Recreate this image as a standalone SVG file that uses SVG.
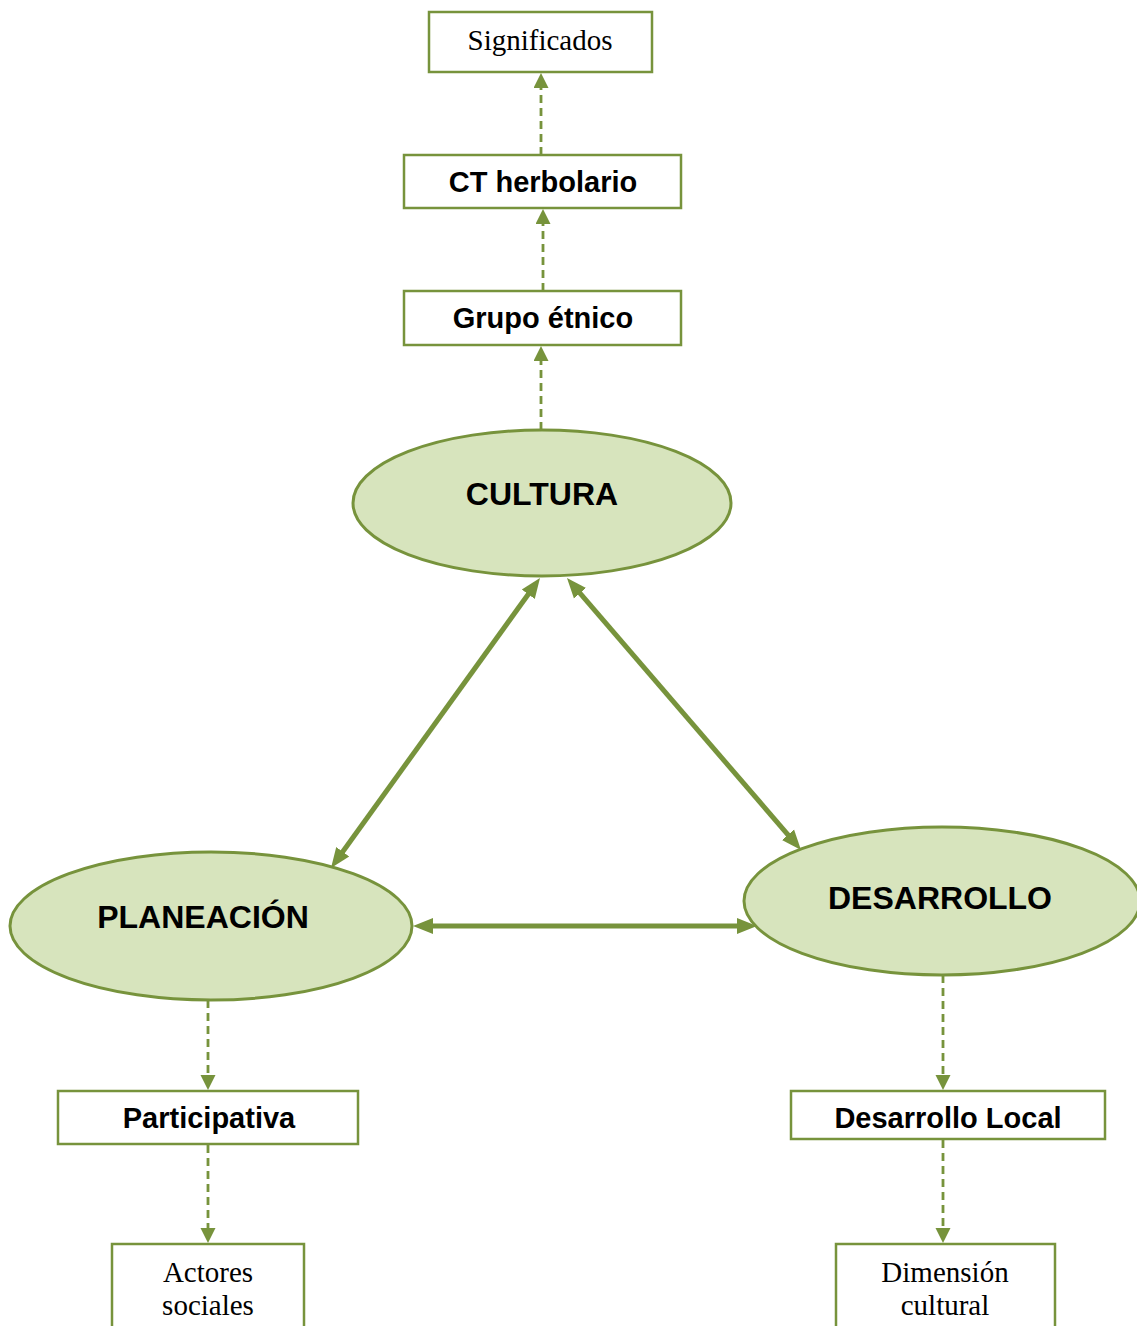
<svg xmlns="http://www.w3.org/2000/svg" width="1137" height="1326" viewBox="0 0 1137 1326">
  <style>
    .box { fill: #ffffff; stroke: #77933C; stroke-width: 2.5; }
    .oval { fill: #D7E4BD; stroke: #77933C; stroke-width: 3; }
    .serif { font-family: "Liberation Serif", "Times New Roman", serif; font-size: 29px; fill: #000; text-anchor: middle; }
    .bold { font-family: "Liberation Sans", Arial, sans-serif; font-weight: bold; font-size: 29px; fill: #000; text-anchor: middle; }
    .big { font-family: "Liberation Sans", Arial, sans-serif; font-weight: bold; font-size: 32px; fill: #000; text-anchor: middle; }
    .solid { stroke: #77933C; stroke-width: 5; fill: none; marker-start: url(#bigHead); marker-end: url(#bigHead); }
    .dash { stroke: #77933C; stroke-width: 2.8; fill: none; stroke-dasharray: 8 5; marker-end: url(#smallHead); }
  </style>
  <defs>
    <marker id="bigHead" markerUnits="userSpaceOnUse" markerWidth="22" markerHeight="18" refX="12" refY="9" orient="auto-start-reverse">
      <path d="M0,1 L20,9 L0,17 z" fill="#77933C"/>
    </marker>
    <marker id="smallHead" markerUnits="userSpaceOnUse" markerWidth="16" markerHeight="16" refX="11" refY="7.5" orient="auto">
      <path d="M0,0 L15,7.5 L0,15 z" fill="#77933C"/>
    </marker>
  </defs>

  <!-- connectors -->
  <g id="connectors">
    <line class="dash" x1="541" y1="155" x2="541" y2="77"/>
    <line class="dash" x1="543" y1="291" x2="543" y2="213"/>
    <line class="dash" x1="541" y1="430" x2="541" y2="350"/>
    <line class="solid" x1="535.3" y1="584.5" x2="335.7" y2="861.5"/>
    <line class="solid" x1="572.2" y1="584.1" x2="795.8" y2="843.9"/>
    <line class="solid" x1="421" y1="926" x2="749" y2="926"/>
    <line class="dash" x1="208" y1="1000" x2="208" y2="1086"/>
    <line class="dash" x1="208" y1="1145" x2="208" y2="1239"/>
    <line class="dash" x1="943" y1="975" x2="943" y2="1086"/>
    <line class="dash" x1="943" y1="1140" x2="943" y2="1239"/>
  </g>

  <g id="significados">
    <rect class="box" x="429" y="12" width="223" height="60"/>
    <text class="serif" x="540" y="50">Significados</text>
  </g>

  <g id="ct-herbolario">
    <rect class="box" x="404" y="155" width="277" height="53"/>
    <text class="bold" x="543" y="192">CT herbolario</text>
  </g>

  <g id="grupo-etnico">
    <rect class="box" x="404" y="291" width="277" height="54"/>
    <text class="bold" x="543" y="328">Grupo étnico</text>
  </g>

  <g id="cultura">
    <ellipse class="oval" cx="542" cy="503" rx="189" ry="73"/>
    <text class="big" x="542" y="505">CULTURA</text>
  </g>

  <g id="planeacion">
    <ellipse class="oval" cx="211" cy="926" rx="201" ry="74"/>
    <text class="big" x="203" y="928">PLANEACIÓN</text>
  </g>

  <g id="desarrollo">
    <ellipse class="oval" cx="942" cy="901" rx="198" ry="74"/>
    <text class="big" x="940" y="909">DESARROLLO</text>
  </g>

  <g id="participativa">
    <rect class="box" x="58" y="1091" width="300" height="53"/>
    <text class="bold" x="209" y="1128">Participativa</text>
  </g>

  <g id="actores-sociales">
    <rect class="box" x="112" y="1244" width="192" height="100"/>
    <text class="serif" x="208" y="1282">Actores</text>
    <text class="serif" x="208" y="1315">sociales</text>
  </g>

  <g id="desarrollo-local">
    <rect class="box" x="791" y="1091" width="314" height="48"/>
    <text class="bold" x="948" y="1128">Desarrollo Local</text>
  </g>

  <g id="dimension-cultural">
    <rect class="box" x="836" y="1244" width="219" height="100"/>
    <text class="serif" x="945" y="1282">Dimensión</text>
    <text class="serif" x="945" y="1315">cultural</text>
  </g>
</svg>
